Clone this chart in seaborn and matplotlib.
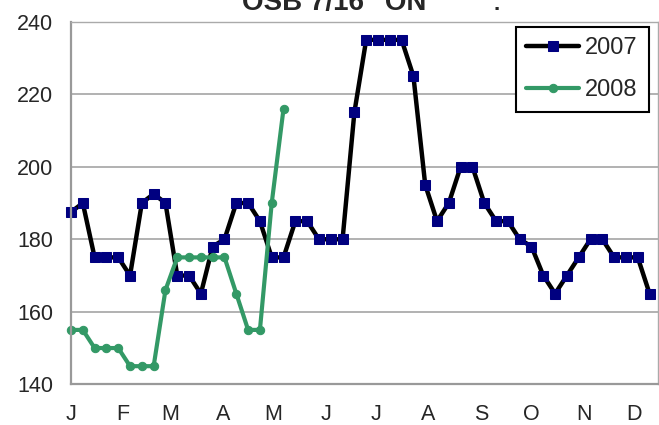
import pandas as pd
import matplotlib.pyplot as plt
import seaborn as sns

# weekly prices, plotted on a common Jan-Dec axis
weeks = pd.date_range("2007-01-01", periods=50, freq="7D")
price_2007 = [187.5, 190, 175, 175, 175, 170, 190, 192.5, 190, 170,
              170, 165, 178, 180, 190, 190, 185, 175, 175, 185,
              185, 180, 180, 180, 215, 235, 235, 235, 235, 225,
              195, 185, 190, 200, 200, 190, 185, 185, 180, 178,
              170, 165, 170, 175, 180, 180, 175, 175, 175, 165]
price_2008 = [155, 155, 150, 150, 150, 145, 145, 145, 166, 175,
              175, 175, 175, 175, 165, 155, 155, 190, 216]
month_labels = ["J", "F", "M", "A", "M", "J", "J", "A", "S", "O", "N", "D"]
title = 'OSB 7/16" ON'

sns.set_style("white")
plt.rcParams["font.family"] = ["Liberation Sans", "DejaVu Sans"]

fig = plt.figure(figsize=(6.59, 4.25), dpi=100)
ax = fig.add_axes([71 / 659, 1 - 384.3 / 425, 587 / 659, 362.6 / 425])

sns.lineplot(x=weeks, y=price_2007, ax=ax, color="black", linewidth=3.2,
             marker="s", markersize=6.5, markerfacecolor="#000080",
             markeredgecolor="#000080", label="2007", clip_on=False)
sns.lineplot(x=weeks[:len(price_2008)], y=price_2008, ax=ax, color="#339966",
             linewidth=3, marker="o", markersize=6, markerfacecolor="#339966",
             markeredgecolor="#339966", label="2008", clip_on=False)

ax.set_ylim(140, 240)
ax.set_yticks([140, 160, 180, 200, 220, 240])
ax.set_xlim(pd.Timestamp("2007-01-01"), pd.Timestamp("2007-12-15"))
month_starts = pd.date_range("2007-01-01", periods=12, freq="MS")
ax.set_xticks(month_starts)
ax.set_xticklabels(month_labels)

ax.grid(axis="y", color="#ababab", linewidth=1.3)
ax.set_axisbelow(True)
for side in ["left", "bottom"]:
    ax.spines[side].set_color("#999999")
    ax.spines[side].set_linewidth(1.6)
for side in ["top", "right"]:
    ax.spines[side].set_color("#aaaaaa")
    ax.spines[side].set_linewidth(1.0)

ax.tick_params(axis="x", direction="in", length=6, width=1.2, color="#999999",
               labelsize=15.5, pad=14)
ax.tick_params(axis="y", length=0, labelsize=15.5, pad=13)
ax.set_xlabel("")
ax.set_ylabel("")

leg = ax.legend(loc="upper right", bbox_to_anchor=(0.984, 0.986), fontsize=17,
                handlelength=2.25, handletextpad=0.25, labelspacing=0.85,
                borderpad=0.45, borderaxespad=0, fancybox=False, framealpha=1)
leg.get_frame().set_edgecolor("black")
leg.get_frame().set_linewidth(1.5)

fig.text(334 / 659, 1 - 10 / 425, title, ha="center", va="baseline",
         fontsize=20, fontweight="bold")
fig.text(497 / 659, 1 - 10 / 425, ".", ha="center", va="baseline",
         fontsize=16, fontweight="bold")

fig.savefig("out.png", dpi=100)
